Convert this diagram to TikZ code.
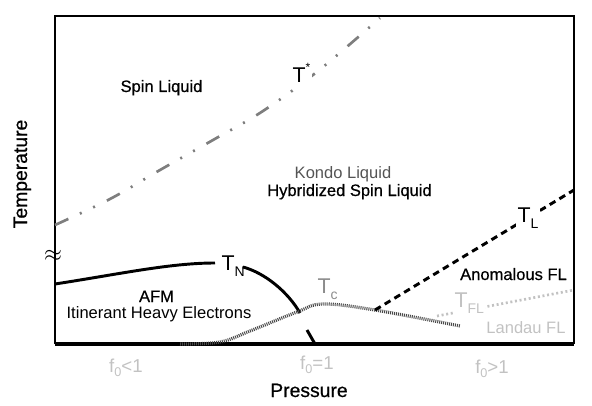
\documentclass[tikz,border=0pt]{standalone}
\usepackage{fontspec}
\setmainfont{Liberation Sans}
\newfontfamily\medfont{Liberation Sans}[RawFeature={embolden=0.6}]

\definecolor{faintgray}{gray}{0.76}
\definecolor{midgray}{gray}{0.55}
\definecolor{darkgray}{gray}{0.33}

\newcommand{\Tsub}[1]{T\raisebox{-4.5pt}{\fontsize{10.5}{12}\selectfont #1}}
\newcommand{\Tstar}{T\raisebox{8.5pt}{\fontsize{9}{10}\selectfont *}}
\newcommand{\fsub}[1]{f\raisebox{-3pt}{\fontsize{9.5}{11}\selectfont 0}#1}

\begin{document}
\begin{tikzpicture}[x=0.75pt,y=-0.75pt,
    region/.style={font=\fontsize{12.4}{14}\selectfont\medfont, inner sep=0pt, anchor=base},
    axislabel/.style={font=\fontsize{14.5}{16}\selectfont\medfont, inner sep=0pt, anchor=base},
    flabel/.style={font=\fontsize{14}{16}\selectfont, text=faintgray, inner sep=0pt, anchor=base},
    templabel/.style={font=\fontsize{16}{18}\selectfont, inner sep=1pt, anchor=base west, fill=white},
    crossover/.style={line width=2pt, color=midgray!90!black,
        dash pattern=on 11pt off 9.5pt on 1.5pt off 9.5pt on 1.5pt off 10pt},
    transition/.style={line width=2.2pt},
    superc/.style={line width=2.4pt, color=darkgray!85!black, dash pattern=on 0.75pt off 0.75pt},
    lscale/.style={line width=2.2pt, dash pattern=on 5pt off 3.5pt},
    flscale/.style={line width=2pt, color=faintgray, dash pattern=on 1.5pt off 2pt}
  ]
    \useasboundingbox (0,0) rectangle (592,406);

    % Frame
    \draw[line width=1.5pt] (55,344) -- (55,16) -- (574,16) -- (574,344);
    \draw[line width=3pt] (55,344) -- (574,344);
    \node[font=\fontsize{16}{17}\selectfont, inner sep=0pt] (brk) at (53,256) {$\approx$};

    % Crossover T*
    \draw[crossover] plot[smooth, tension=0.6] coordinates
        {(55,225) (110,199) (160,170) (213,140) (263,111) (318,71) (380,18)};

    % Neel line
    \draw[transition] (55,284) .. controls (120,274) and (170,263) .. (215,263);
    \draw[transition] (243,267) .. controls (265,273) and (288,292) .. (300,313);
    \draw[transition] (307,330) -- (315,344);

    % Superconducting dome
    \draw[superc] plot[smooth, tension=0.6] coordinates
        {(180,344) (220,342) (250,331) (297,312) (323,304) (375,310) (460,326)};

    % Coherence lines
    \draw[lscale] (375,310) -- (574,190);
    \draw[flscale] (437,316) -- (574,290);

    % Temperature scales
    \node[templabel] (tstar) at (291,83) {\Tstar};
    \node[templabel, fill=none] (tn) at (220,270) {\Tsub{N}};
    \node[templabel, text=midgray, fill=none] (tc) at (316,293) {\Tsub{c}};
    \node[templabel] (tl) at (516,222) {\Tsub{L}};
    \node[templabel, text=faintgray] (tfl) at (453,307) {\Tsub{FL}};

    % Regions
    \node[region] (spin) at (161.5,92) {Spin Liquid};
    \node[region, text=darkgray, font=\fontsize{12.4}{14}\selectfont] (kondo) at (343,179) {Kondo Liquid};
    \node[region] (hybrid) at (349.5,196) {Hybridized Spin Liquid};
    \node[region] (afm) at (156.5,302) {AFM};
    \node[region, font=\fontsize{12.4}{14}\selectfont] (heavy) at (159,318) {Itinerant Heavy Electrons};
    \node[region] (anom) at (513.5,280) {Anomalous FL};
    \node[region, text=faintgray, font=\fontsize{12.4}{14}\selectfont] (landau) at (526,333) {Landau FL};

    % Axes labels
    \node[flabel] (fless) at (126,372) {\fsub{<1}};
    \node[flabel] (fone) at (317,369) {\fsub{=1}};
    \node[flabel] (fmore) at (492,373) {\fsub{>1}};
    \node[axislabel] (press) at (309,397) {Pressure};
    \node[axislabel, rotate=90] (temp) at (27,174) {Temperature};
\end{tikzpicture}
\end{document}
